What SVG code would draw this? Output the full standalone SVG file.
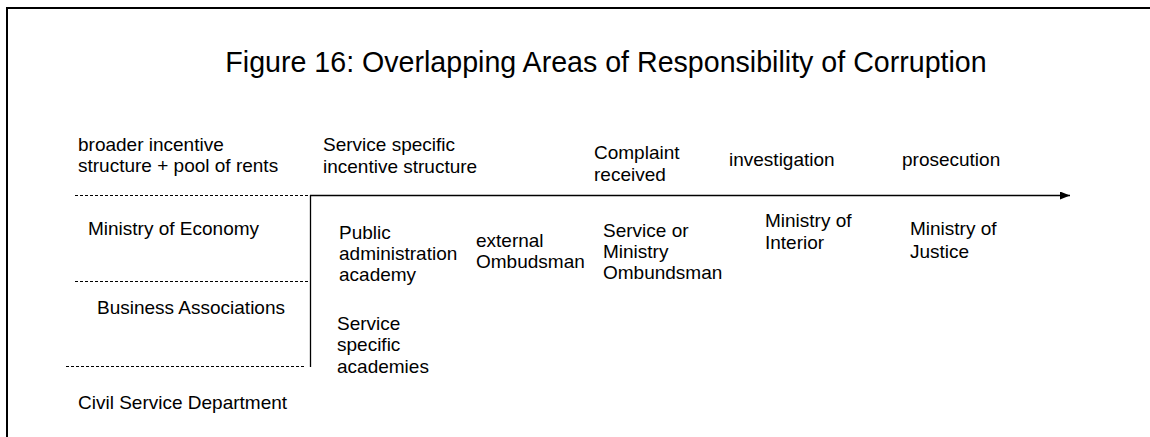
<svg xmlns="http://www.w3.org/2000/svg" width="1150" height="437" viewBox="0 0 1150 437">
<defs>
<style>
text{font-family:"Liberation Sans",Arial,sans-serif;fill:#000;}
.lbl{font-size:19px;}
.ttl{font-size:28.6px;}
.dash{stroke:#000;stroke-width:1;stroke-dasharray:3,2;fill:none;}
.solid{stroke:#000;stroke-width:1.3;fill:none;}
</style>
<marker id="ah" viewBox="0 0 10 8" refX="10" refY="4" markerWidth="10" markerHeight="8" markerUnits="userSpaceOnUse" orient="auto">
<path d="M0,0 L10,4 L0,8 Z" fill="#000"/>
</marker>
</defs>
<rect x="0" y="0" width="1150" height="437" fill="#fff"/>
<rect x="7" y="8" width="1160" height="450" fill="none" stroke="#000" stroke-width="2"/>
<g id="title"><text class="ttl" x="606" y="72" text-anchor="middle">Figure 16: Overlapping Areas of Responsibility of Corruption</text></g>
<g id="connectors">
<line class="solid" x1="310" y1="195.5" x2="1070" y2="195.5" marker-end="url(#ah)"/>
<line class="solid" x1="310.5" y1="195" x2="310.5" y2="367"/>
<line class="dash" x1="75" y1="195.5" x2="310" y2="195.5"/>
<line class="dash" x1="75" y1="281.5" x2="310" y2="281.5"/>
<line class="dash" x1="66" y1="366.5" x2="304" y2="366.5"/>
</g>
<g id="n-broader"><text class="lbl" x="78" y="151">broader incentive<tspan x="78" dy="21">structure + pool of rents</tspan></text></g>
<g id="n-service-specific"><text class="lbl" x="323" y="151">Service specific<tspan x="323" dy="21.5">incentive structure</tspan></text></g>
<g id="n-complaint"><text class="lbl" x="594" y="158.5">Complaint<tspan x="594" dy="22">received</tspan></text></g>
<g id="n-investigation"><text class="lbl" x="729" y="166">investigation</text></g>
<g id="n-prosecution"><text class="lbl" x="902" y="166">prosecution</text></g>
<g id="n-min-economy"><text class="lbl" x="88" y="235">Ministry of Economy</text></g>
<g id="n-business"><text class="lbl" x="97" y="313.5">Business Associations</text></g>
<g id="n-civil"><text class="lbl" x="78" y="408.5">Civil Service Department</text></g>
<g id="n-public-academy"><text class="lbl" x="339" y="238.5">Public<tspan x="339" dy="21.3">administration</tspan><tspan x="339" dy="21.3">academy</tspan></text></g>
<g id="n-service-academies"><text class="lbl" x="337" y="330">Service<tspan x="337" dy="21.3">specific</tspan><tspan x="337" dy="21.3">academies</tspan></text></g>
<g id="n-external"><text class="lbl" x="476" y="246.5">external<tspan x="476" dy="21">Ombudsman</tspan></text></g>
<g id="n-service-ombudsman"><text class="lbl" x="603" y="236.5">Service or<tspan x="603" dy="21.3">Ministry</tspan><tspan x="603" dy="21.3">Ombundsman</tspan></text></g>
<g id="n-interior"><text class="lbl" x="765" y="227">Ministry of<tspan x="765" dy="21.5">Interior</tspan></text></g>
<g id="n-justice"><text class="lbl" x="910" y="235">Ministry of<tspan x="910" dy="23">Justice</tspan></text></g>
</svg>
